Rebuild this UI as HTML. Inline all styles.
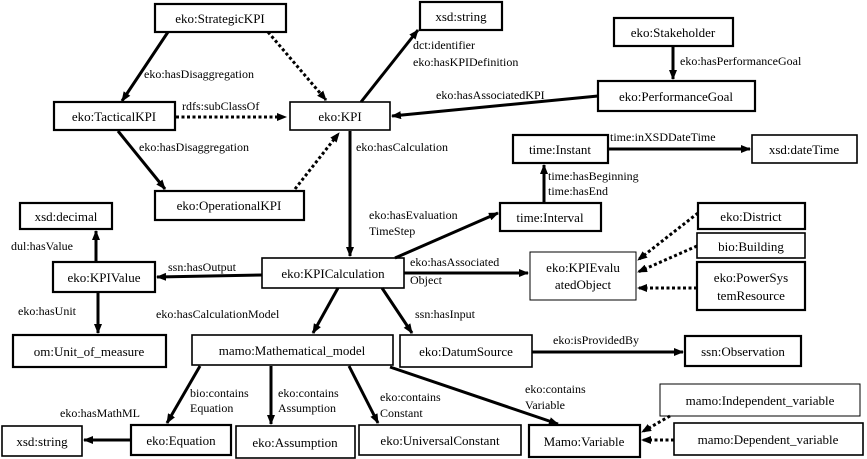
<!DOCTYPE html>
<html><head><meta charset="utf-8"><style>
html,body{margin:0;padding:0;background:#fff;}
svg{display:block;}
svg text{font-family:"Liberation Serif","Times New Roman",Times,serif;font-size:13px;fill:#000;}
svg text.l{font-size:12px;}
</style></head><body>
<svg width="867" height="459" viewBox="0 0 867 459" xmlns="http://www.w3.org/2000/svg" font-family="Liberation Serif, Times New Roman, serif">
<defs>
<marker id="a" markerWidth="10" markerHeight="8" refX="9" refY="4" orient="auto" markerUnits="userSpaceOnUse"><path d="M0,0 L10,4 L0,8 z" fill="#000"/></marker>
</defs>
<g fill="#fff" stroke="#000" stroke-width="2.2">
<rect x="155" y="4" width="131" height="28"/>
<rect x="420" y="2" width="82" height="28"/>
<rect x="614" y="18" width="119" height="28"/>
<rect x="54" y="102" width="121" height="28"/>
<rect x="290" y="102" width="100" height="28" stroke-width="1.6"/>
<rect x="598" y="81" width="157" height="30"/>
<rect x="155" y="191" width="149" height="29"/>
<rect x="513" y="135" width="95" height="28"/>
<rect x="752" y="135" width="105" height="28" stroke-width="1.6"/>
<rect x="500" y="203" width="101" height="28"/>
<rect x="698" y="203" width="107" height="26"/>
<rect x="697" y="233" width="108" height="25" stroke-width="1.6"/>
<rect x="697" y="262" width="108" height="48"/>
<rect x="20" y="203" width="92" height="26"/>
<rect x="53" y="262" width="102" height="30"/>
<rect x="262" y="258" width="142" height="30" stroke-width="1.6"/>
<rect x="530" y="252" width="106" height="48" stroke-width="1"/>
<rect x="13" y="335" width="153" height="32"/>
<rect x="192" y="335" width="201" height="30" stroke-width="1.6"/>
<rect x="400" y="335" width="132" height="32" stroke-width="1.6"/>
<rect x="685" y="336" width="116" height="30"/>
<rect x="660" y="384" width="200" height="32" stroke-width="1"/>
<rect x="674" y="423" width="189" height="32" stroke-width="1.6"/>
<rect x="2" y="426" width="80" height="30" stroke-width="1.6"/>
<rect x="131" y="425" width="100" height="30"/>
<rect x="236" y="426" width="119" height="32" stroke-width="1.6"/>
<rect x="359" y="425" width="162" height="30" stroke-width="1.6"/>
<rect x="529" y="425" width="111" height="32"/>
</g>
<g stroke="#000" stroke-width="3" fill="none" marker-end="url(#a)">
<line x1="168" y1="32" x2="122" y2="101"/>
<line x1="118" y1="131" x2="165" y2="189"/>
<line x1="361" y1="102" x2="418" y2="30"/>
<line x1="673" y1="47" x2="673" y2="79"/>
<line x1="598" y1="96" x2="392" y2="116"/>
<line x1="350" y1="131" x2="350" y2="256"/>
<line x1="608" y1="149" x2="750" y2="149"/>
<line x1="544" y1="203" x2="544" y2="165"/>
<line x1="395" y1="258" x2="498" y2="213"/>
<line x1="404" y1="273" x2="528" y2="273"/>
<line x1="262" y1="275" x2="157" y2="277"/>
<line x1="96" y1="262" x2="96" y2="231"/>
<line x1="98" y1="292" x2="98" y2="333"/>
<line x1="338" y1="288" x2="313" y2="333"/>
<line x1="382" y1="288" x2="412" y2="333"/>
<line x1="532" y1="352" x2="683" y2="352"/>
<line x1="200" y1="366" x2="167" y2="423"/>
<line x1="271" y1="366" x2="271" y2="424"/>
<line x1="349" y1="366" x2="378" y2="423"/>
<line x1="390" y1="367" x2="558" y2="424"/>
<line x1="131" y1="440" x2="84" y2="440"/>
</g>
<g stroke="#000" stroke-width="3" fill="none" stroke-dasharray="3,2.5" marker-end="url(#a)">
<line x1="268" y1="32" x2="326" y2="100"/>
<line x1="176" y1="117" x2="286" y2="117"/>
<line x1="295" y1="189" x2="339" y2="133"/>
<line x1="698" y1="213" x2="638" y2="260"/>
<line x1="697" y1="246" x2="638" y2="272"/>
<line x1="697" y1="288" x2="638" y2="288"/>
<line x1="670" y1="416" x2="642" y2="432"/>
<line x1="674" y1="440" x2="642" y2="440"/>
</g>
<g text-anchor="middle" font-size="13">
<text x="220" y="23">eko:StrategicKPI</text>
<text x="461" y="21">xsd:string</text>
<text x="673" y="37">eko:Stakeholder</text>
<text x="114" y="121">eko:TacticalKPI</text>
<text x="340" y="121">eko:KPI</text>
<text x="676" y="101">eko:PerformanceGoal</text>
<text x="229" y="210">eko:OperationalKPI</text>
<text x="560" y="154">time:Instant</text>
<text x="804" y="154">xsd:dateTime</text>
<text x="550" y="222">time:Interval</text>
<text x="751" y="221">eko:District</text>
<text x="751" y="251">bio:Building</text>
<text x="751" y="282">eko:PowerSys</text>
<text x="751" y="300">temResource</text>
<text x="66" y="221">xsd:decimal</text>
<text x="104" y="282">eko:KPIValue</text>
<text x="333" y="278">eko:KPICalculation</text>
<text x="583" y="272">eko:KPIEvalu</text>
<text x="583" y="289">atedObject</text>
<text x="89" y="356">om:Unit_of_measure</text>
<text x="292" y="355">mamo:Mathematical_model</text>
<text x="466" y="356">eko:DatumSource</text>
<text x="743" y="356">ssn:Observation</text>
<text x="760" y="405">mamo:Independent_variable</text>
<text x="768" y="444">mamo:Dependent_variable</text>
<text x="42" y="446">xsd:string</text>
<text x="181" y="445">eko:Equation</text>
<text x="295" y="447">eko:Assumption</text>
<text x="440" y="445">eko:UniversalConstant</text>
<text x="584" y="446">Mamo:Variable</text>
</g>
<g font-size="12">
<text class="l" x="144" y="78">eko:hasDisaggregation</text>
<text class="l" x="182" y="110">rdfs:subClassOf</text>
<text class="l" x="139" y="151">eko:hasDisaggregation</text>
<text class="l" x="413" y="49">dct:identifier</text>
<text class="l" x="413" y="66">eko:hasKPIDefinition</text>
<text class="l" x="680" y="65">eko:hasPerformanceGoal</text>
<text class="l" x="436" y="99">eko:hasAssociatedKPI</text>
<text class="l" x="356" y="151">eko:hasCalculation</text>
<text class="l" x="610" y="141">time:inXSDDateTime</text>
<text class="l" x="548" y="180">time:hasBeginning</text>
<text class="l" x="548" y="195">time:hasEnd</text>
<text class="l" x="369" y="219">eko:hasEvaluation</text>
<text class="l" x="369" y="235">TimeStep</text>
<text class="l" x="410" y="266">eko:hasAssociated</text>
<text class="l" x="410" y="284">Object</text>
<text class="l" x="11" y="250">dul:hasValue</text>
<text class="l" x="168" y="271">ssn:hasOutput</text>
<text class="l" x="18" y="315">eko:hasUnit</text>
<text class="l" x="156" y="318">eko:hasCalculationModel</text>
<text class="l" x="415" y="318">ssn:hasInput</text>
<text class="l" x="553" y="344">eko:isProvidedBy</text>
<text class="l" x="190" y="397">bio:contains</text>
<text class="l" x="190" y="412">Equation</text>
<text class="l" x="278" y="397">eko:contains</text>
<text class="l" x="278" y="412">Assumption</text>
<text class="l" x="380" y="401">eko:contains</text>
<text class="l" x="380" y="417">Constant</text>
<text class="l" x="525" y="393">eko:contains</text>
<text class="l" x="525" y="409">Variable</text>
<text class="l" x="60" y="417">eko:hasMathML</text>
</g>
</svg>
</body></html>
